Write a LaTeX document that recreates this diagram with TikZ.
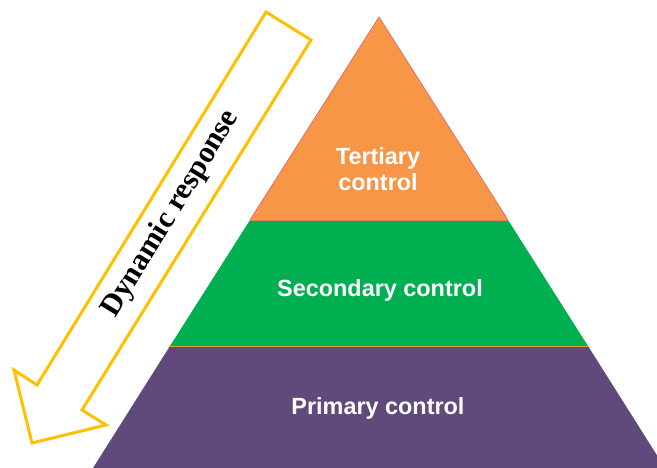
\documentclass[tikz,border=0pt]{standalone}
\usepackage{fontspec}
\setmainfont{Liberation Serif}
\newfontfamily\arialfont{Liberation Sans}
\definecolor{tertorange}{HTML}{F79646}
\definecolor{secgreen}{HTML}{00B050}
\definecolor{primpurple}{HTML}{604A7B}
\definecolor{arrowgold}{HTML}{FFC000}
\definecolor{edgered}{HTML}{E0706A}
\definecolor{edgeorange}{HTML}{D9A030}
\begin{document}
\begin{tikzpicture}[x=1bp,y=-1bp,
  layerlbl/.style={text=white,font=\arialfont\bfseries\fontsize{23.5}{26}\selectfont,align=center,inner sep=0pt},
  arrowlbl/.style={text=black,font=\bfseries\fontsize{30.5}{34}\selectfont,inner sep=0pt},
  arrowline/.style={draw=arrowgold,line width=3bp,line join=miter,fill=white}]
\useasboundingbox (0,0) rectangle (657,468);
\coordinate (apex) at (379,17);
\coordinate (tl) at (250,220); \coordinate (tr) at (508,220);
\coordinate (sl) at (170,346); \coordinate (sr) at (588,346);
\coordinate (bl) at (93,468);  \coordinate (br) at (665,468);
\begin{scope}
\clip (0,0) rectangle (657,468);
\fill[primpurple] (sl) -- (sr) -- (br) -- (bl) -- cycle;
\fill[secgreen] (tl) -- (tr) -- (sr) -- (sl) -- cycle;
\fill[tertorange] (apex) -- (tr) -- (tl) -- cycle;
\draw[edgered,line width=0.8bp] (tl) -- (apex) -- (tr);
\draw[edgeorange,line width=0.8bp] (sl) -- (sr);
\draw[edgered!60!tertorange,line width=0.6bp] (tl) -- (tr);
\end{scope}
% arrow
\coordinate (a1) at (266,12);
\coordinate (a2) at (311,40);
\coordinate (a3) at (82,410);
\coordinate (a4) at (106,425);
\coordinate (a5) at (32,443);
\coordinate (a6) at (14,370);
\coordinate (a7) at (37,385);
\draw[arrowline] (a1) -- (a2) -- (a3) -- (a4) -- (a5) -- (a6) -- (a7) -- cycle;
\node[arrowlbl,rotate=58.5] (dyn) at (171,214) {Dynamic response};
\node[layerlbl] (tert) at (378,169) {Tertiary\\control};
\node[layerlbl] (sec) at (380,290) {Secondary control};
\node[layerlbl] (prim) at (378,408) {Primary control};
\end{tikzpicture}
\end{document}
